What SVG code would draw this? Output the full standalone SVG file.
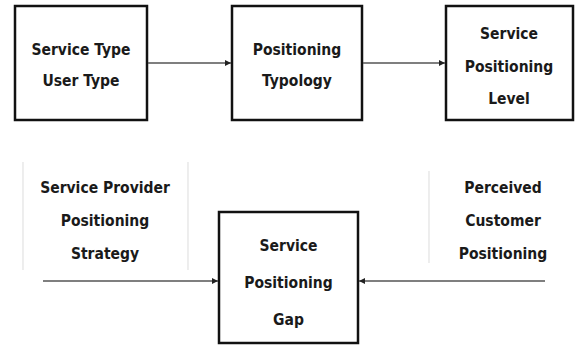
<svg xmlns="http://www.w3.org/2000/svg" width="575" height="345" viewBox="0 0 575 345">
<style>
.box{fill:#fff;stroke:#111;stroke-width:2.5}
.pane{stroke:#e2e2e2;stroke-width:1.2;fill:none}
.lbl{font-family:"DejaVu Sans Condensed","Liberation Sans",sans-serif;font-weight:bold;font-size:15.5px;fill:#1a1a1a;text-anchor:middle}
.conn{stroke:#555;stroke-width:1.6;fill:none;marker-end:url(#ah)}
</style>
<defs>
<marker id="ah" markerUnits="userSpaceOnUse" markerWidth="7" markerHeight="7" refX="6" refY="3.5" orient="auto">
<path d="M0,0.5 L6,3.5 L0,6.5 Z" fill="#222"/>
</marker>
</defs>
<rect width="575" height="345" fill="#fff"/>
<g id="n1">
<rect class="box" x="15" y="6" width="132" height="114"/>
<text class="lbl" x="81" y="55">Service Type</text>
<text class="lbl" x="81" y="86">User Type</text>
</g>
<g id="n2">
<rect class="box" x="232" y="6" width="130" height="114"/>
<text class="lbl" x="297" y="55">Positioning</text>
<text class="lbl" x="297" y="86">Typology</text>
</g>
<g id="n3">
<rect class="box" x="446" y="6" width="127" height="114"/>
<text class="lbl" x="509" y="39">Service</text>
<text class="lbl" x="509" y="72">Positioning</text>
<text class="lbl" x="509" y="104">Level</text>
</g>
<g id="n4">
<line class="pane" x1="23" y1="162" x2="23" y2="270"/>
<line class="pane" x1="188" y1="162" x2="188" y2="270"/>
<text class="lbl" x="105" y="193">Service Provider</text>
<text class="lbl" x="105" y="226">Positioning</text>
<text class="lbl" x="105" y="259">Strategy</text>
</g>
<g id="n5">
<line class="pane" x1="429" y1="171" x2="429" y2="263"/>
<text class="lbl" x="503" y="193">Perceived</text>
<text class="lbl" x="503" y="226">Customer</text>
<text class="lbl" x="503" y="259">Positioning</text>
</g>
<g id="n6">
<rect class="box" x="219" y="212" width="139" height="131"/>
<text class="lbl" x="288.5" y="251">Service</text>
<text class="lbl" x="288.5" y="288">Positioning</text>
<text class="lbl" x="288.5" y="325">Gap</text>
</g>
<g id="connectors">
<line class="conn" x1="148" y1="63" x2="231" y2="63"/>
<line class="conn" x1="363" y1="63" x2="445" y2="63"/>
<line class="conn" x1="43" y1="281" x2="218" y2="281"/>
<line class="conn" x1="545" y1="281" x2="359" y2="281"/>
</g>
</svg>
